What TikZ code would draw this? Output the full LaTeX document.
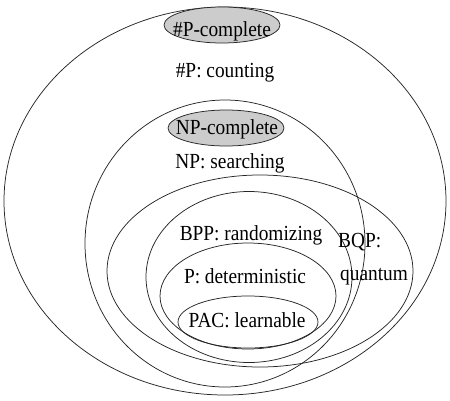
\documentclass[tikz,border=0pt]{standalone}
\usepackage{fontspec}
\setmainfont{Liberation Serif}
\usetikzlibrary{shapes.geometric}
\newcommand{\mylab}[1]{\scalebox{0.9}[1]{#1}}
\begin{document}
\begin{tikzpicture}[x=1pt,y=-1pt,
  region/.style={draw=black!85, line width=0.75pt, ellipse, inner sep=0pt, outer sep=0pt},
  complete/.style={region, fill=gray!40},
  lbl/.style={font=\fontsize{21.5}{24}\selectfont, inner sep=0pt, anchor=base}]
\useasboundingbox (0,0) rectangle (450,400);
\node[region, minimum width=442pt, minimum height=388pt] (sharpP) at (225,201) {};
\node[region, minimum width=280pt, minimum height=287pt] (NP) at (225,243.5) {};
\node[region, minimum width=306pt, minimum height=192pt] (BQP) at (260,271) {};
\node[region, minimum width=206pt, minimum height=171pt] (BPP) at (249,277) {};
\node[region, minimum width=176pt, minimum height=106pt] (P) at (248,296) {};
\node[region, minimum width=140pt, minimum height=52pt] (PAC) at (248,322) {};
\node[complete, minimum width=116pt, minimum height=36pt] (sharpPc) at (222,25) {};
\node[complete, minimum width=116pt, minimum height=36pt] (NPc) at (226,128) {};
\node[lbl] (tPc) at (222,36) {\mylab{\#P-complete}};
\node[lbl] (tP) at (225,77) {\mylab{\#P: counting}};
\node[lbl] (tNPc) at (227,134) {\mylab{NP-complete}};
\node[lbl] (tNP) at (230,168) {\mylab{NP: searching}};
\node[lbl] (tBPP) at (251,240) {\mylab{BPP: randomizing}};
\node[lbl, anchor=base west] (tBQP) at (338,247) {\mylab{BQP:}};
\node[lbl, anchor=base west] (tq) at (340,280) {\mylab{quantum}};
\node[lbl] (tDet) at (245,283) {\mylab{P: deterministic}};
\node[lbl] (tPAC) at (247,327) {\mylab{PAC: learnable}};
\end{tikzpicture}
\end{document}
